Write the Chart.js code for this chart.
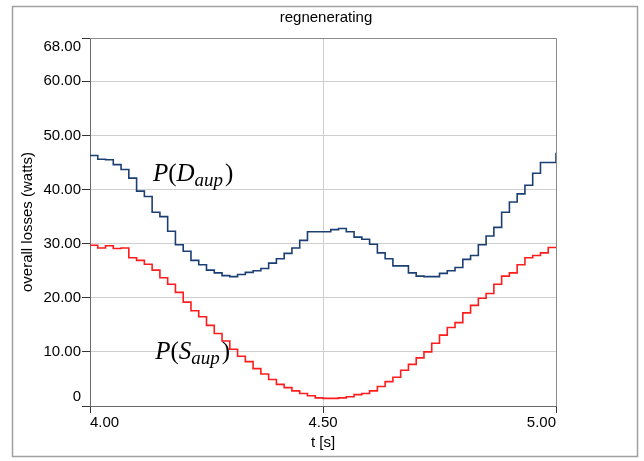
<!DOCTYPE html>
<html>
<head>
<meta charset="utf-8">
<script src="https://cdn.jsdelivr.net/npm/chart.js@4.4.0/dist/chart.umd.min.js"></script>
<style>
html,body{margin:0;padding:0;background:#fff;}
</style>
</head>
<body>
<canvas id="chart" width="644" height="461"></canvas>
<script>
// step values, one per 1/60 s from t = 4.00 to t = 5.00
var stepsPerSec = 60;
var tStart = 4.0;
var dLoss = [46.3,45.6,45.5,44.6,43.7,42.1,39.7,38.7,35.8,35.0,
             32.3,29.8,28.6,26.9,26.1,25.1,24.6,24.1,23.9,24.3,
             24.7,25.0,25.4,26.4,27.2,28.2,29.2,30.6,32.2,32.2,
             32.2,32.6,32.8,32.2,31.2,30.8,29.9,28.3,27.2,25.9,
             25.9,24.6,24.0,23.9,23.9,24.5,25.0,25.6,27.1,27.8,
             29.8,31.4,33.0,35.8,37.7,39.2,40.8,43.0,45.0,45.0,
             46.8];
var sLoss = [29.7,29.2,29.6,29.1,29.2,27.4,26.9,26.2,25.1,23.7,
             22.5,21.0,19.2,17.6,16.5,14.9,13.4,12.0,10.5,9.2,
             8.2,6.9,5.9,4.9,4.0,3.4,2.8,2.3,1.9,1.5,
             1.4,1.4,1.5,1.7,2.1,2.3,2.8,3.6,4.5,5.3,
             6.6,7.7,8.9,10.0,11.6,13.1,14.5,15.4,17.2,18.6,
             19.9,20.8,22.5,24.0,24.6,26.1,27.4,27.8,28.3,29.3,
             29.3];
var xTicks = [4.0, 4.5, 5.0];
var yTicks = [0, 10, 20, 30, 40, 50, 60, 68];
var chartTitle = 'regnenerating';
var xTitle = 't [s]';
var yTitle = 'overall losses (watts)';
// curve labels: [main letter, subscript], anchored at (t, watts)
var labelD = {letter: 'D', sub: 'aup', t: 4.135, v: 41.6};
var labelS = {letter: 'S', sub: 'aup', t: 4.14, v: 8.7};

function toPoints(vals){
    var pts = [];
    for (var i = 0; i < vals.length; i++) {
        pts.push({x: tStart + i / stepsPerSec, y: vals[i]});
    }
    return pts;
}

var sansFont = {family: '"Liberation Sans", Arial, sans-serif', size: 15, weight: 'normal'};

var framePlugin = {
    id: 'frame',
    beforeDraw: function(chart){
        var ctx = chart.ctx;
        ctx.save();
        ctx.fillStyle = '#fff';
        ctx.fillRect(0, 0, chart.width, chart.height);
        ctx.strokeStyle = '#a0a0a0';
        ctx.lineWidth = 1.5;
        ctx.strokeRect(12.5, 6.5, 625, 450);
        ctx.restore();
    },
    afterDraw: function(chart){
        var a = chart.chartArea;
        var ctx = chart.ctx;
        ctx.save();
        ctx.strokeStyle = '#8a8a8a';
        ctx.lineWidth = 1;
        ctx.beginPath();
        ctx.moveTo(a.left, a.top + 0.5);
        ctx.lineTo(a.right + 0.5, a.top + 0.5);
        ctx.lineTo(a.right + 0.5, a.bottom);
        ctx.stroke();
        ctx.restore();
    }
};

function drawCurveLabel(chart, lab){
    var ctx = chart.ctx;
    var x = chart.scales.x.getPixelForValue(lab.t);
    var y = chart.scales.y.getPixelForValue(lab.v);
    var serif = '"Liberation Serif", "Times New Roman", serif';
    var parts = [
        {txt: 'P', font: 'italic 25px ' + serif, dy: 0},
        {txt: '(', font: '25px ' + serif, dy: 0},
        {txt: lab.letter, font: 'italic 25px ' + serif, dy: 0},
        {txt: lab.sub, font: 'italic 19px ' + serif, dy: 5},
        {txt: ')', font: '25px ' + serif, dy: 0}
    ];
    ctx.save();
    ctx.fillStyle = '#000';
    ctx.textBaseline = 'alphabetic';
    ctx.textAlign = 'left';
    for (var i = 0; i < parts.length; i++) {
        ctx.font = parts[i].font;
        ctx.fillText(parts[i].txt, x, y + parts[i].dy);
        x += ctx.measureText(parts[i].txt).width + (i == 3 ? 2 : 0);
    }
    ctx.restore();
}

var labelPlugin = {
    id: 'curveLabels',
    afterDatasetsDraw: function(chart){
        drawCurveLabel(chart, labelD);
        drawCurveLabel(chart, labelS);
    }
};

var ctx = document.getElementById('chart').getContext('2d');
var myChart = new Chart(ctx, {
    type: 'line',
    data: {
        datasets: [{
            label: 'P(Daup)',
            data: toPoints(dLoss),
            stepped: true,
            borderColor: '#1b3f72',
            borderWidth: 1.6,
            pointRadius: 0,
            fill: false
        }, {
            label: 'P(Saup)',
            data: toPoints(sLoss),
            stepped: true,
            borderColor: '#ff1c1c',
            borderWidth: 1.6,
            pointRadius: 0,
            fill: false
        }]
    },
    options: {
        responsive: false,
        animation: false,
        devicePixelRatio: 1,
        layout: {padding: {top: 9, left: 8, right: 0, bottom: 0}},
        plugins: {
            legend: {display: false},
            tooltip: {enabled: false},
            title: {
                display: true,
                text: chartTitle,
                color: '#000',
                font: sansFont,
                padding: {top: 0, bottom: 11}
            }
        },
        scales: {
            x: {
                type: 'linear',
                min: 4,
                max: 5,
                afterBuildTicks: function(s){
                    s.ticks = xTicks.map(function(v){ return {value: v}; });
                },
                afterFit: function(s){ s.height = 55; },
                ticks: {
                    color: '#000',
                    font: sansFont,
                    padding: 1,
                    align: 'inner',
                    maxRotation: 0,
                    callback: function(v){ return Number(v).toFixed(2); }
                },
                grid: {color: '#cfcfcf', tickColor: '#333', tickLength: 7},
                border: {color: '#6a6a6a', width: 1},
                title: {
                    display: true,
                    text: xTitle,
                    color: '#000',
                    font: sansFont,
                    padding: {top: 0, bottom: 9}
                }
            },
            y: {
                type: 'linear',
                min: 0,
                max: 68,
                afterBuildTicks: function(s){
                    s.ticks = yTicks.map(function(v){ return {value: v}; });
                },
                afterFit: function(s){ s.width = 82; },
                ticks: {
                    color: '#000',
                    font: sansFont,
                    padding: 1,
                    callback: function(v){
                        if (v === 0) return ['0', ''];
                        if (v === 68) return ['', '68.00'];
                        return Number(v).toFixed(2);
                    }
                },
                grid: {color: '#cfcfcf', tickColor: '#333', tickLength: 8},
                border: {color: '#6a6a6a', width: 1},
                title: {
                    display: true,
                    text: yTitle,
                    color: '#000',
                    font: sansFont,
                    padding: {top: 11, bottom: 0}
                }
            },
            yRight: {
                type: 'linear',
                position: 'right',
                afterFit: function(s){ s.width = 88; },
                ticks: {display: false},
                grid: {display: false},
                border: {display: false}
            }
        }
    },
    plugins: [framePlugin, labelPlugin]
});
</script>
</body>
</html>
